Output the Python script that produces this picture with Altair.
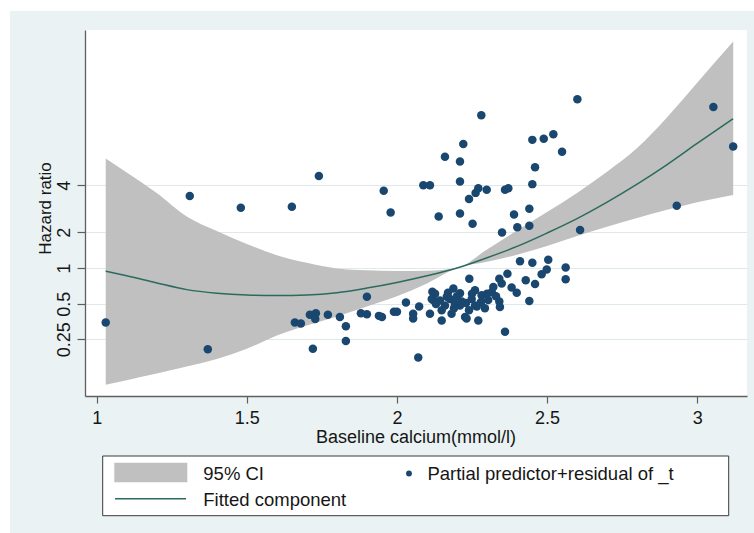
import altair as alt
import pandas as pd

# Partial predictor + residual (log-hazard scale) against baseline calcium (mmol/l)
calcium = [
    1.03, 1.31, 1.37, 1.48, 1.65, 1.74, 1.66, 1.68, 1.71, 1.73,
    1.728, 1.72, 1.77, 1.81, 1.83, 1.83, 1.90, 1.88, 1.90, 1.94,
    1.95, 1.99, 2.00, 2.03, 2.054, 2.054, 2.074, 2.071, 2.11, 2.118,
    2.12,
    1.956, 1.979, 2.088, 2.110, 2.139, 2.160, 2.221, 2.210, 2.210, 2.210,
    2.281, 2.252, 2.240, 2.262, 2.271, 2.299, 2.360, 2.371, 2.350, 2.390,
    2.401, 2.441, 2.441, 2.451, 2.460, 2.451, 2.489, 2.521, 2.550, 2.601,
    2.610, 2.932, 3.054, 3.120,
    2.127, 2.143, 2.116, 2.160, 2.149, 2.149, 2.166, 2.177, 2.188, 2.182,
    2.193, 2.210, 2.210, 2.216, 2.227, 2.241, 2.249, 2.260, 2.260, 2.266,
    2.271, 2.282, 2.293, 2.304, 2.316, 2.321, 2.341, 2.341, 2.343, 2.349,
    2.360, 2.368, 2.382, 2.399, 2.410, 2.429, 2.441, 2.451, 2.460, 2.482,
    2.499, 2.504, 2.562, 2.562,
    2.20, 2.23, 2.25, 2.19, 2.13, 2.28, 2.30, 2.24, 2.17, 2.33, 2.232,
]
partial_resid = [
    -1.06, 1.40, -1.58, 1.17, 1.19, 1.79, -1.06, -1.08, -0.91, -0.88,
    -0.99, -1.57, -0.91, -0.95, -1.13, -1.42, -0.56, -0.88, -0.90, -0.93,
    -0.95, -0.85, -0.85, -0.67, -0.98, -0.89, -0.75, -1.74, -0.89, -0.46,
    -0.62,
    1.50, 1.08, 1.61, 1.61, 1.00, 2.16, 2.41, 2.07, 1.68, 1.06,
    2.97, 0.86, 1.34, 1.46, 1.55, 1.52, 1.52, 1.55, 0.69, 1.04,
    0.79, 1.15, 0.82, 1.63, 1.96, 2.49, 2.51, 2.60, 2.26, 3.28,
    0.74, 1.21, 3.13, 2.36,
    -0.50, -0.63, -0.60, -0.73, -1.02, -0.82, -0.56, -0.60, -0.40, -0.89,
    -0.69, -0.73, -0.49, -0.65, -0.95, -0.21, -0.60, -0.73, -0.43, -0.75,
    -1.02, -0.53, -0.78, -0.62, -0.47, -0.37, -0.21, -0.65, -0.76, -0.30,
    -1.24, -0.11, -0.38, -0.48, 0.13, -0.24, -0.64, 0.10, -0.31, -0.12,
    -0.03, 0.16, 0.01, -0.22,
    -0.55, -0.68, -0.50, -0.78, -0.70, -0.66, -0.50, -0.82, -0.48, -0.55, -0.98,
]

# Fitted spline component with its 95% confidence band (log-hazard scale)
grid_calcium = [1.03, 1.10, 1.20, 1.30, 1.40, 1.50, 1.60, 1.70, 1.80, 1.90, 2.00,
                2.10, 2.20, 2.30, 2.40, 2.50, 2.60, 2.70, 2.80, 2.90, 3.00, 3.12]
fitted = [-0.06, -0.15, -0.29, -0.42, -0.49, -0.525, -0.535, -0.525, -0.48, -0.39, -0.28,
          -0.15, 0.0, 0.20, 0.42, 0.68, 0.96, 1.28, 1.63, 2.01, 2.42, 2.90]
ci_low = [-2.27, -2.18, -2.05, -1.915, -1.77, -1.57, -1.31, -1.115, -0.94, -0.75, -0.55,
          -0.30, 0.0, 0.12, 0.26, 0.43, 0.62, 0.80, 0.97, 1.13, 1.28, 1.42]
ci_high = [2.13, 1.855, 1.457, 1.00, 0.717, 0.467, 0.25, 0.10, -0.01, -0.045, -0.06,
           -0.055, 0.0, 0.36, 0.73, 1.09, 1.46, 1.87, 2.33, 2.93, 3.60, 4.40]

# Axis ticks: positions on the log-hazard scale and their printed labels
hr_tick_pos = [-1.386, -0.693, 0.0, 0.693, 1.609]
hr_tick_text = ["0.25", "0.5", "1", "2", "4"]
calcium_ticks = [1, 1.5, 2, 2.5, 3]

legend_labels = ["95% CI", "Fitted component", "Partial predictor+residual of _t"]

FONT = "Liberation Sans"
TXT = "#161616"
BG = "#eaf2f3"
NAVY = "#1a476f"
BAND = "#c0c0c0"
FIT = "#2b6a5c"
GRID = "#dfe9eb"
AXIS = "#5f5f5f"

W, H = 662, 366

pts = pd.DataFrame({"calcium": calcium, "lnhr": partial_resid})
curve = pd.DataFrame({"calcium": grid_calcium, "lnhr": fitted, "lo": ci_low, "hi": ci_high})
one = alt.Data(values=[{}])

label_expr = " : ".join(
    f"abs(datum.value - ({p})) < 0.01 ? '{t}'" for p, t in zip(hr_tick_pos, hr_tick_text)
) + " : ''"

xs = alt.Scale(domain=[0.961, 3.166], nice=False, zero=False)
ys = alt.Scale(domain=[-2.487, 4.625], nice=False, zero=False)

x_axis = alt.Axis(
    values=calcium_ticks, format="~g", title="Baseline calcium(mmol/l)", grid=False,
    tickSize=7, tickWidth=1.2, tickColor=AXIS, domainColor=AXIS, domainWidth=1.3,
    labelPadding=6, labelFontSize=18, labelFont=FONT, labelColor=TXT,
    labelOverlap=False, labelFlush=False,
    titleFont=FONT, titleFontSize=18, titleFontWeight="normal", titleColor=TXT,
    titleBaseline="alphabetic", titleAlign="center", titleX=330.5, titleY=46,
)
y_axis = alt.Axis(
    values=hr_tick_pos, labelExpr=label_expr, title="Hazard ratio",
    grid=True, gridColor=GRID, gridWidth=1.2,
    tickSize=8, tickWidth=1.2, tickColor=AXIS, domainColor=AXIS, domainWidth=1.3,
    labelAngle=270, labelAlign="center", labelBaseline="bottom", labelPadding=4,
    labelFontSize=18, labelFont=FONT, labelColor=TXT, labelOverlap=False, labelFlush=False,
    titleFont=FONT, titleFontSize=17, titleFontWeight="normal", titleColor=TXT,
    titleAngle=270, titleAlign="center", titleBaseline="alphabetic", titleX=-35, titleY=178,
)

band = alt.Chart(curve).mark_area(color=BAND, opacity=1, interpolate="monotone").encode(
    x=alt.X("calcium:Q", scale=xs, axis=x_axis),
    y=alt.Y("lo:Q", scale=ys, axis=y_axis),
    y2="hi:Q",
)
dots = alt.Chart(pts).mark_circle(size=72, color=NAVY, opacity=1).encode(
    x=alt.X("calcium:Q", scale=xs, axis=x_axis),
    y=alt.Y("lnhr:Q", scale=ys, axis=y_axis),
)
fit_line = alt.Chart(curve).mark_line(color=FIT, strokeWidth=1.5, interpolate="monotone").encode(
    x=alt.X("calcium:Q", scale=xs, axis=x_axis),
    y=alt.Y("lnhr:Q", scale=ys, axis=y_axis),
)

# Outer white margin along the top and left of the graph region
top_strip = alt.Chart(one).mark_rect(fill="white").encode(
    x=alt.value(-85), x2=alt.value(W + 7), y=alt.value(-30), y2=alt.value(-19))
left_strip = alt.Chart(one).mark_rect(fill="white").encode(
    x=alt.value(-85), x2=alt.value(-75), y=alt.value(-30), y2=alt.value(H + 137))

# Legend box below the plot
leg_box = alt.Chart(one).mark_rect(fill="white", stroke="#3a3a3a", strokeWidth=1).encode(
    x=alt.value(17.7), x2=alt.value(643.7), y=alt.value(426), y2=alt.value(485.7))
leg_swatch = alt.Chart(one).mark_rect(fill=BAND).encode(
    x=alt.value(29.3), x2=alt.value(102.3), y=alt.value(432.7), y2=alt.value(452.3))
leg_line = alt.Chart(one).mark_rule(color=FIT, strokeWidth=1.5).encode(
    x=alt.value(30), x2=alt.value(101), y=alt.value(468.7))
leg_dot = alt.Chart(one).mark_circle(size=34, color=NAVY, opacity=1).encode(
    x=alt.value(324), y=alt.value(443.5))


def leg_text(label, x, y):
    return alt.Chart(one).mark_text(
        align="left", baseline="alphabetic", font=FONT, fontSize=18.5, color=TXT
    ).encode(x=alt.value(x), y=alt.value(y), text=alt.value(label))


chart = alt.layer(
    band, dots, fit_line, top_strip, left_strip,
    leg_box, leg_swatch, leg_line, leg_dot,
    leg_text(legend_labels[0], 118.3, 450),
    leg_text(legend_labels[1], 118.3, 475.7),
    leg_text(legend_labels[2], 342.4, 450),
).properties(
    width=W, height=H, background=BG,
    padding={"left": 85, "top": 30, "right": 7, "bottom": 137},
    autosize=alt.AutoSizeParams(type="none"),
).configure_view(strokeWidth=0, fill="white")

chart.save("out.html", embed_options={"renderer": "svg", "actions": False})
